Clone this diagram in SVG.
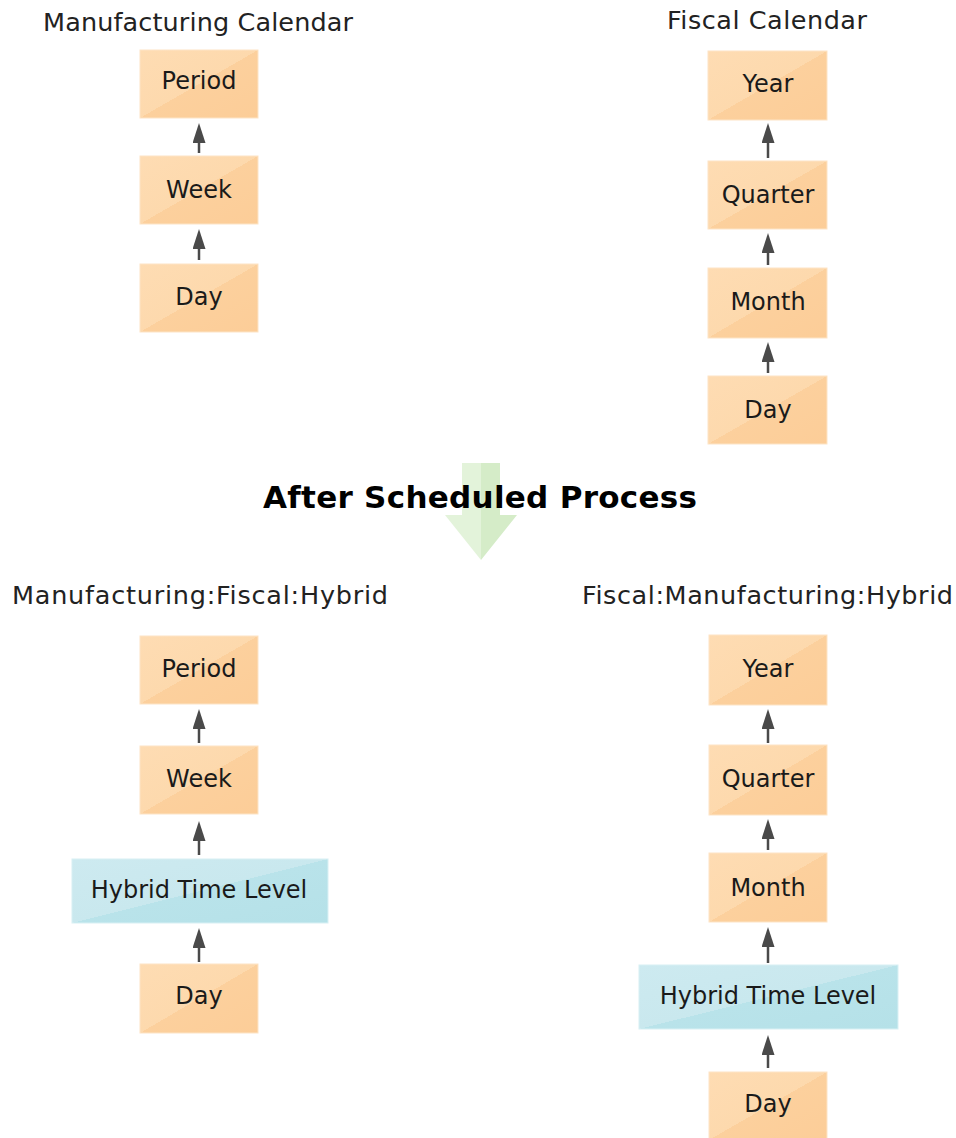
<svg xmlns="http://www.w3.org/2000/svg" width="956" height="1138" viewBox="0 0 956 1138">
<defs>
  <linearGradient id="gOrange" x1="0" y1="0" x2="1" y2="1">
    <stop offset="0" stop-color="#fedcb3"/>
    <stop offset="0.5" stop-color="#fdd9ad"/>
    <stop offset="0.5" stop-color="#fcd09d"/>
    <stop offset="1" stop-color="#fccd98"/>
  </linearGradient>
  <linearGradient id="gBlue" x1="0" y1="0" x2="1" y2="1">
    <stop offset="0" stop-color="#cdeaf0"/>
    <stop offset="0.5" stop-color="#c9e8ee"/>
    <stop offset="0.5" stop-color="#b9e3ea"/>
    <stop offset="1" stop-color="#b5e1e8"/>
  </linearGradient>
  <marker id="ah" markerUnits="userSpaceOnUse" markerWidth="20" markerHeight="13" refX="10" refY="6.5" orient="auto" viewBox="0 0 20 13">
    <path d="M0,0 L20,6.5 L0,13 z" fill="#4a4a4a"/>
  </marker>
</defs>
<style>
  .box { fill: url(#gOrange); stroke: #fde4c6; stroke-width: 1; }
  .hyb { fill: url(#gBlue); stroke: #d8f0f4; stroke-width: 1; }
  .lbl { font-family: "DejaVu Sans", Verdana, sans-serif; font-size: 24px; fill: #1a1a1a; text-anchor: middle; }
  .head { font-family: "DejaVu Sans", Verdana, sans-serif; font-size: 25.5px; fill: #222; }
  .title { font-family: "DejaVu Sans", Verdana, sans-serif; font-size: 31px; font-weight: bold; fill: #000; }
  .conn line { stroke: #4a4a4a; stroke-width: 2.5; marker-end: url(#ah); }
</style>
<rect width="956" height="1138" fill="#ffffff"/>

<!-- big green arrow -->
<g id="process-arrow">
  <path d="M462,463 L481,463 L481,560 L445,515 L462,515 Z" fill="#e3f3da"/>
  <path d="M481,463 L500,463 L500,515 L517,515 L481,560 Z" fill="#d5ecc8"/>
</g>

<!-- headings -->
<text class="head" x="43" y="31" textLength="310">Manufacturing Calendar</text>
<text class="head" x="667" y="29" textLength="200">Fiscal Calendar</text>
<text class="title" x="263" y="508" textLength="434">After Scheduled Process</text>
<text class="head" x="12" y="604" textLength="376">Manufacturing:Fiscal:Hybrid</text>
<text class="head" x="582" y="604" textLength="371">Fiscal:Manufacturing:Hybrid</text>

<!-- top-left: manufacturing calendar -->
<g id="mc-period"><rect class="box" x="140" y="50" width="118" height="68"/><text class="lbl" x="199" y="89">Period</text></g>
<g id="mc-week"><rect class="box" x="140" y="156" width="118" height="68"/><text class="lbl" x="199" y="198">Week</text></g>
<g id="mc-day"><rect class="box" x="140" y="264" width="118" height="68"/><text class="lbl" x="199" y="305">Day</text></g>

<!-- top-right: fiscal calendar -->
<g id="fc-year"><rect class="box" x="708" y="51" width="119" height="69"/><text class="lbl" x="768" y="92">Year</text></g>
<g id="fc-quarter"><rect class="box" x="708" y="161" width="119" height="68"/><text class="lbl" x="768" y="203">Quarter</text></g>
<g id="fc-month"><rect class="box" x="708" y="268" width="119" height="70"/><text class="lbl" x="768" y="310">Month</text></g>
<g id="fc-day"><rect class="box" x="708" y="376" width="119" height="68"/><text class="lbl" x="768" y="418">Day</text></g>

<!-- bottom-left: manufacturing:fiscal:hybrid -->
<g id="mfh-period"><rect class="box" x="140" y="636" width="118" height="68"/><text class="lbl" x="199" y="677">Period</text></g>
<g id="mfh-week"><rect class="box" x="140" y="746" width="118" height="68"/><text class="lbl" x="199" y="787">Week</text></g>
<g id="mfh-hybrid"><rect class="hyb" x="72" y="859" width="256" height="64"/><text class="lbl" x="199" y="898">Hybrid Time Level</text></g>
<g id="mfh-day"><rect class="box" x="140" y="964" width="118" height="69"/><text class="lbl" x="199" y="1004">Day</text></g>

<!-- bottom-right: fiscal:manufacturing:hybrid -->
<g id="fmh-year"><rect class="box" x="709" y="635" width="118" height="70"/><text class="lbl" x="768" y="677">Year</text></g>
<g id="fmh-quarter"><rect class="box" x="709" y="745" width="118" height="70"/><text class="lbl" x="768" y="787">Quarter</text></g>
<g id="fmh-month"><rect class="box" x="709" y="853" width="118" height="69"/><text class="lbl" x="768" y="896">Month</text></g>
<g id="fmh-hybrid"><rect class="hyb" x="639" y="965" width="259" height="64"/><text class="lbl" x="768" y="1004">Hybrid Time Level</text></g>
<g id="fmh-day"><rect class="box" x="709" y="1072" width="118" height="68"/><text class="lbl" x="768" y="1112">Day</text></g>

<!-- connectors -->
<g id="connectors" class="conn">
  <line x1="199" y1="153" x2="199" y2="133"/>
  <line x1="199" y1="260" x2="199" y2="239"/>
  <line x1="768" y1="158" x2="768" y2="133"/>
  <line x1="768" y1="265" x2="768" y2="243"/>
  <line x1="768" y1="373" x2="768" y2="352"/>
  <line x1="199" y1="743" x2="199" y2="719"/>
  <line x1="199" y1="855" x2="199" y2="831"/>
  <line x1="199" y1="962" x2="199" y2="938"/>
  <line x1="768" y1="743" x2="768" y2="719"/>
  <line x1="768" y1="850" x2="768" y2="829"/>
  <line x1="768" y1="963" x2="768" y2="937"/>
  <line x1="768" y1="1068" x2="768" y2="1045"/>
</g>
</svg>
